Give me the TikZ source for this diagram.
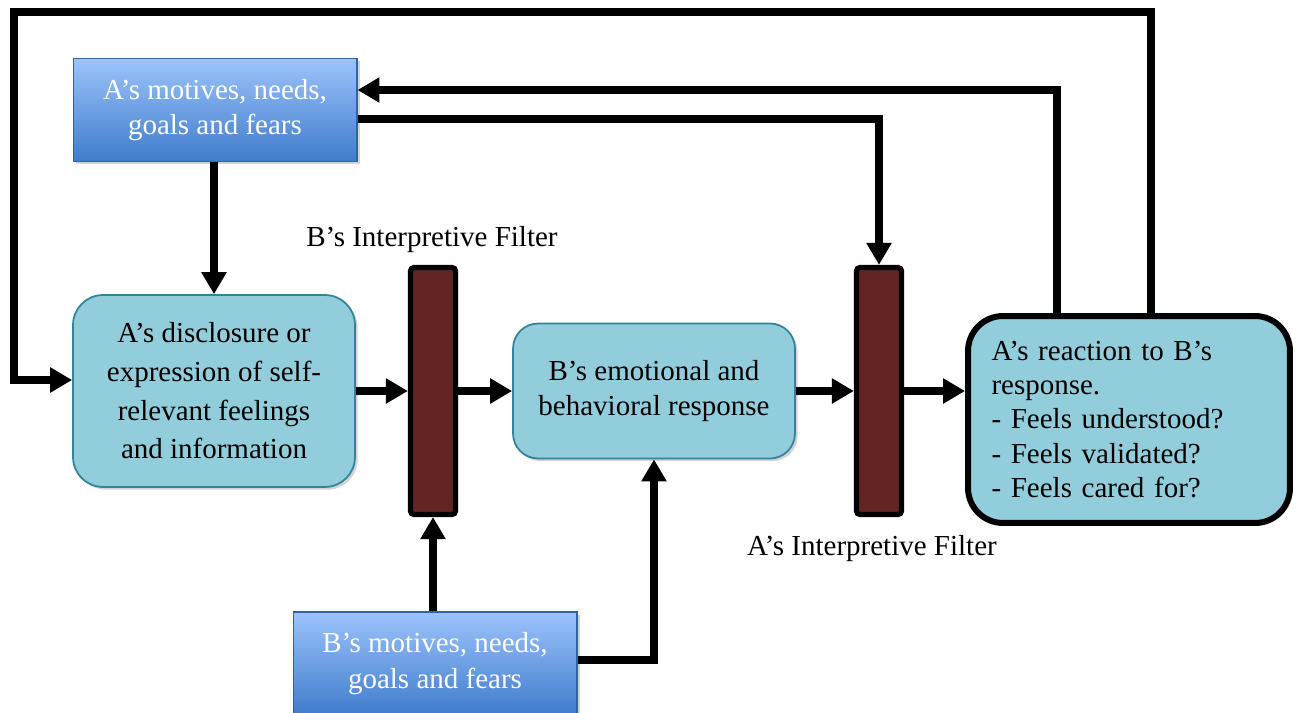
\documentclass[tikz,border=0pt]{standalone}
\usepackage{fontspec}
\setmainfont{Liberation Serif}
\usetikzlibrary{arrows.meta,shadows}

\definecolor{boxfill}{HTML}{92CDDC}
\definecolor{boxline}{HTML}{31849B}
\definecolor{filtfill}{HTML}{632523}
\definecolor{motivetop}{HTML}{9DC3FB}
\definecolor{motivebot}{HTML}{3F7CCC}

\begin{document}
\begin{tikzpicture}[x=0.02cm, y=-0.02cm,
    every node/.style={font=\fontsize{16.5}{20}\selectfont, align=center, inner sep=0pt},
    motive/.style={rectangle, draw=motivebot!80!black, line width=0.6pt, top color=motivetop, bottom color=motivebot,
      text=white, minimum width=5.68cm, minimum height=2.06cm, drop shadow={opacity=0.35, shadow xshift=1.5pt, shadow yshift=-1.5pt}},
    stage/.style={rectangle, rounded corners=0.6cm, draw=boxline, line width=1pt, fill=boxfill,
      drop shadow={opacity=0.35, shadow xshift=1.5pt, shadow yshift=-1.5pt}},
    filt/.style={rectangle, rounded corners=2pt, draw=black, line width=3pt, fill=filtfill,
      minimum width=0.9cm, minimum height=4.94cm},
    conn/.style={line width=4.5pt, -{Triangle[length=0.44cm, width=0.48cm]}}]
    \useasboundingbox (0,0) rectangle (1302,713);

    \node[motive] (amot) at (215,110) {A’s motives, needs,\\goals and fears};
    \node[stage, minimum width=5.64cm, minimum height=3.84cm, font=\fontsize{16.5}{22}\selectfont] (disc) at (214,391)
      {A’s disclosure or\\expression of self-\\relevant feelings\\and information};
    \node[filt] (bfilt) at (433,391) {};
    \node (blab) at (432,240) {B’s Interpretive Filter};
    \node[stage, rounded corners=0.5cm, minimum width=5.64cm, minimum height=2.7cm] (bresp) at (654,391)
      {B’s emotional and\\behavioral response};
    \node[filt] (afilt) at (879,391) {};
    \node (alab) at (872,549) {A’s Interpretive Filter};
    \node[stage, draw=black, line width=3.4pt, rounded corners=0.7cm, minimum width=6.44cm, minimum height=4.14cm,
      text width=5.5cm, align=left, font=\fontsize{16.5}{19.5}\selectfont] (react) at (1129,419.5)
      {A’s reaction to B’s\\response.\\- Feels understood?\\- Feels validated?\\- Feels cared for?};
    \node[motive] (bmot) at (435,663.5) {B’s motives, needs,\\goals and fears};

    \coordinate (topr) at (1151,12);
    \coordinate (topl) at (14,12);
    \coordinate (backr) at (1057,90);

    \draw[conn] (amot.south -| disc.north) -- (disc.north);
    \draw[conn] (disc.east) -- (bfilt.west);
    \draw[conn] (bfilt.east) -- (bresp.west);
    \draw[conn] (bresp.east) -- (afilt.west);
    \draw[conn] (afilt.east) -- (afilt.east -| react.west);
    \draw[conn] (bmot.north -| bfilt.south) -- (bfilt.south);
    \draw[conn] ([yshift=0.07cm]bmot.east) -| (bresp.south);
    \draw[conn] ([yshift=-0.18cm]amot.east) -| (afilt.north);
    \draw[conn] (react.north -| backr) |- ([yshift=0.4cm]amot.east);
    \draw[conn] (react.north -| topr) -- (topr) -- (topl) |- ([yshift=0.22cm]disc.west);
\end{tikzpicture}
\end{document}
